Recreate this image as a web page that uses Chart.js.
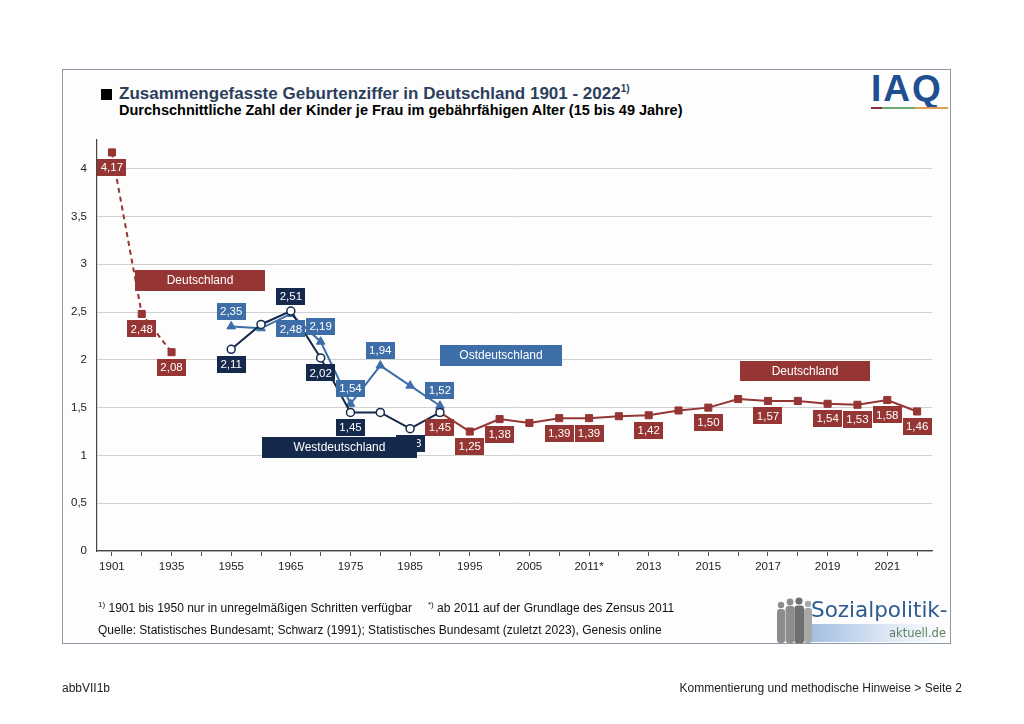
<!DOCTYPE html>
<html>
<head>
<meta charset="utf-8">
<script src="https://cdn.jsdelivr.net/npm/chart.js@4.4.1/dist/chart.umd.min.js"></script>
<style>
  html, body { margin:0; padding:0; background:#fff; }
  body { width:1024px; height:724px; position:relative; overflow:hidden; font-family: Arial, "Liberation Sans", sans-serif; }
  .t { position:absolute; white-space:nowrap; }
  sup { line-height:0; }
</style>
</head>
<body>
<div style="position:absolute;left:62px;top:69px;width:887px;height:573px;border:1.5px solid #8d99a6;background:#fdfdfd;"></div>

<div style="position:absolute;left:101px;top:89px;width:11px;height:11px;background:#000;"></div>
<div class="t" style="left:119px;top:84px;font-weight:bold;font-size:17px;color:#2c3f5c;">Zusammengefasste Geburtenziffer in Deutschland 1901 - 2022<sup style="font-size:10px;">1)</sup></div>
<div class="t" style="left:119px;top:102px;font-weight:bold;font-size:14.5px;color:#000;">Durchschnittliche Zahl der Kinder je Frau im gebährfähigen Alter (15 bis 49 Jahre)</div>

<!-- IAQ logo -->
<div class="t" style="left:871px;top:69px;font-weight:bold;font-size:37px;letter-spacing:2px;line-height:40px;color:#1d4f91;">IAQ</div>
<div style="position:absolute;left:871px;top:107px;width:11px;height:2px;background:#8b2c3c;"></div>
<div style="position:absolute;left:882px;top:107px;width:33px;height:2px;background:#6aa874;"></div>
<div style="position:absolute;left:915px;top:107px;width:33px;height:2px;background:#e0a050;"></div>

<canvas id="c" width="1024" height="724" style="position:absolute;left:0;top:0;width:1024px;height:724px;"></canvas>

<div class="t" style="left:98px;top:601px;font-size:12px;color:#111;"><sup style="font-size:8px;">1)</sup> 1901 bis 1950 nur in unregelmäßigen Schritten verfügbar</div>
<div class="t" style="left:428px;top:601px;font-size:12px;color:#111;"><sup style="font-size:8px;">*)</sup> ab 2011 auf der Grundlage des Zensus 2011</div>
<div class="t" style="left:98px;top:623px;font-size:12px;color:#111;">Quelle: Statistisches Bundesamt; Schwarz (1991); Statistisches Bundesamt (zuletzt 2023), Genesis online</div>

<!-- Sozialpolitik-aktuell logo -->
<div style="position:absolute;left:806px;top:624px;width:142px;height:18px;background:linear-gradient(to right,#9fbde0,#dfe9f5 60%,#ffffff);"></div>
<svg style="position:absolute;left:774px;top:596px;" width="40" height="48" viewBox="0 0 40 48">
  <g fill="#8c8c8c">
    <circle cx="7" cy="9" r="3.2"/><rect x="3" y="13" width="8" height="34" rx="3"/>
    <circle cx="16" cy="6" r="3.4"/><rect x="11.5" y="10" width="9" height="37" rx="3"/>
  </g>
  <g fill="#6f6f6f">
    <circle cx="25" cy="5" r="3.6"/><rect x="20.5" y="9.5" width="9.5" height="38" rx="3"/>
  </g>
  <g fill="#a8a8a8">
    <circle cx="34" cy="8" r="3.2"/><rect x="30" y="12" width="8" height="35" rx="3"/>
  </g>
</svg>
<div class="t" style="left:811px;top:597px;font-family:'DejaVu Sans';font-size:21.5px;color:#2d5d90;">Sozialpolitik-</div>
<div class="t" style="left:886px;top:626px;font-family:'DejaVu Sans';font-size:11.5px;color:#5f8060;width:60px;text-align:right;">aktuell.de</div>

<div class="t" style="left:62px;top:681px;font-size:12px;color:#222;">abbVII1b</div>
<div class="t" style="right:62px;top:681px;font-size:12px;color:#222;">Kommentierung und methodische Hinweise &gt; Seite 2</div>

<script>
// ---- data ----
const categories = ['1901','1925','1935','1950','1955','1960','1965','1970','1975','1980','1985','1990','1995','2000','2005','2010','2011*','2012','2013','2014','2015','2016','2017','2018','2019','2020','2021','2022'];
const deutschland = [4.17, 2.48, 2.08, null, null, null, null, null, null, null, null, 1.45, 1.25, 1.38, 1.34, 1.39, 1.39, 1.41, 1.42, 1.47, 1.50, 1.59, 1.57, 1.57, 1.54, 1.53, 1.58, 1.46];
const westdeutschland = [null, null, null, null, 2.11, 2.37, 2.51, 2.02, 1.45, 1.45, 1.28, 1.45, null, null, null, null, null, null, null, null, null, null, null, null, null, null, null, null];
const ostdeutschland = [null, null, null, null, 2.35, 2.33, 2.48, 2.19, 1.54, 1.94, 1.73, 1.52, null, null, null, null, null, null, null, null, null, null, null, null, null, null, null, null];
const yTickValues = [0, 0.5, 1, 1.5, 2, 2.5, 3, 3.5, 4];

// which values carry a value box: 'a' above, 'b' below
const deutschlandLabelPos = ['b','b','b','','','','','','','','','b','b','b','','b','b','','b','','b','','b','','b','b','b','b'];
const westLabelPos = ['','','','','b','','a','b','b','','b','','','','','','','','','','','','','','','','',''];
const ostLabelPos = ['','','','','a','','b','a','a','a','','a','','','','','','','','','','','','','','','',''];

const RED = '#963634', NAVY = '#14294b', BLUE = '#3d6ea7';
const fmt = v => v.toFixed(2).replace('.', ',');

const nameBoxes = [
  { text:'Deutschland', color:RED, x:135, y:270, w:130, h:21 },
  { text:'Ostdeutschland', color:BLUE, x:440, y:345, w:122, h:21 },
  { text:'Westdeutschland', color:NAVY, x:262, y:437, w:155, h:21 },
  { text:'Deutschland', color:RED, x:740, y:361, w:130, h:20 }
];

const labelPlugin = {
  id: 'boxLabels',
  afterDatasetsDraw(chart) {
    const ctx = chart.ctx;
    ctx.save();
    ctx.textAlign = 'center';
    ctx.textBaseline = 'middle';
    const drawOrder = [2, 1, 0];
    drawOrder.forEach(di => {
      const ds = chart.data.datasets[di];
      const meta = chart.getDatasetMeta(di);
      meta.data.forEach((pt, i) => {
        const v = ds.data[i];
        const p = ds.labelPos[i];
        if (v == null || !p) return;
        const txt = fmt(v);
        ctx.font = '11.5px Arial, "Liberation Sans", sans-serif';
        const w = Math.round(ctx.measureText(txt).width + 7);
        const h = 17;
        const cy = pt.y + (p === 'a' ? -15 : 15);
        ctx.fillStyle = ds.borderColor;
        ctx.fillRect(Math.round(pt.x - w / 2), Math.round(cy - h / 2), w, h);
        ctx.fillStyle = '#fff';
        ctx.fillText(txt, pt.x, cy + 0.5);
      });
    });
    nameBoxes.forEach(b => {
      ctx.fillStyle = b.color;
      ctx.fillRect(b.x, b.y, b.w, b.h);
      ctx.fillStyle = '#fff';
      ctx.font = '12px Arial, "Liberation Sans", sans-serif';
      ctx.fillText(b.text, b.x + b.w / 2, b.y + b.h / 2 + 0.5);
    });
    ctx.restore();
  }
};

new Chart(document.getElementById('c'), {
  type: 'line',
  data: {
    labels: categories,
    datasets: [
      {
        label: 'Westdeutschland', data: westdeutschland, labelPos: westLabelPos,
        borderColor: NAVY, backgroundColor: '#fff', borderWidth: 2,
        pointStyle: 'circle', pointRadius: 4, pointBorderWidth: 1.5,
        pointBackgroundColor: '#fff', pointBorderColor: NAVY, spanGaps: false
      },
      {
        label: 'Ostdeutschland', data: ostdeutschland, labelPos: ostLabelPos,
        borderColor: BLUE, backgroundColor: BLUE, borderWidth: 2,
        pointStyle: 'triangle', pointRadius: 5, pointBorderWidth: 1,
        pointBackgroundColor: BLUE, pointBorderColor: BLUE, spanGaps: false
      },
      {
        label: 'Deutschland', data: deutschland, labelPos: deutschlandLabelPos,
        borderColor: RED, backgroundColor: RED, borderWidth: 2,
        pointStyle: 'rect', pointRadius: 5, pointBorderWidth: 1,
        pointBackgroundColor: RED, pointBorderColor: RED, spanGaps: false,
        segment: { borderDash: c => (c.p1DataIndex <= 2 ? [5, 4] : undefined) }
      }
    ]
  },
  options: {
    responsive: false,
    animation: false,
    devicePixelRatio: 1,
    layout: { padding: { left: 57, right: 92, top: 140, bottom: 143 } },
    plugins: { legend: { display: false }, tooltip: { enabled: false }, title: { display: false } },
    elements: { line: { tension: 0 } },
    scales: {
      x: {
        type: 'category',
        offset: true,
        grid: { display: true, drawOnChartArea: false, drawTicks: true, tickLength: 5, offset: false, color: '#555', lineWidth: 1 },
        border: { display: true, color: '#444', width: 1.2 },
        ticks: {
          autoSkip: false, maxRotation: 0, minRotation: 0, padding: 4,
          color: '#222', font: { family: 'Arial, "Liberation Sans", sans-serif', size: 11.5 },
          callback: function(val, idx) { return idx % 2 === 0 ? this.getLabelForValue(val) : ''; }
        },
        afterFit: s => { s.height = 30; }
      },
      y: {
        min: 0, max: 4.3,
        grid: { color: '#d0d0d0', lineWidth: 1, drawTicks: false },
        border: { display: true, color: '#444', width: 1.2 },
        ticks: {
          stepSize: 0.5, padding: 10, color: '#222',
          font: { family: 'Arial, "Liberation Sans", sans-serif', size: 11.5 },
          callback: v => String(v).replace('.', ',')
        },
        afterBuildTicks: s => { s.ticks = yTickValues.map(v => ({ value: v })); },
        afterFit: s => { s.width = 40; }
      }
    }
  },
  plugins: [labelPlugin]
});
</script>
</body>
</html>
